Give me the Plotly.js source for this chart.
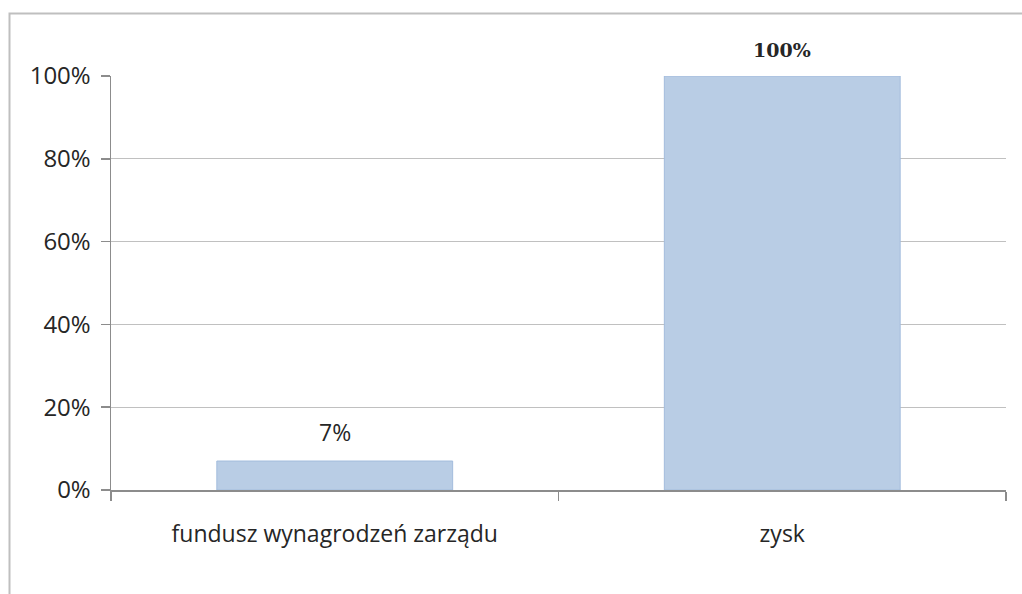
<!DOCTYPE html>
<html>
<head>
<meta charset="utf-8">
<script src="https://cdn.plot.ly/plotly-3.0.1.min.js"></script>
<style>
html,body{margin:0;padding:0;background:#fff;}
#chart{width:1022px;height:594px;}
</style>
</head>
<body>
<div id="chart"></div>
<script>
const categories = ["fundusz wynagrodzeń zarządu", "zysk"];
const values = [0.07, 1.00];
const labels = ["7%", "100%"];
const yTicks = [0, 0.2, 0.4, 0.6, 0.8, 1.0];
const yTickLabels = ["0%", "20%", "40%", "60%", "80%", "100%"];

// pixel geometry of plot area
const W = 1022, H = 594;
const L = 111, R = 1006, T = 76, B = 490;
const pw = R - L, ph = B - T;
function px2x(p){ return (p - L) / pw; }
function px2y(p){ return (B - p) / ph; }

const trace = {
  type: "bar",
  x: categories,
  y: values,
  marker: {color: "#B9CDE5", line: {color: "#A3BCDD", width: 1}},
  hoverinfo: "none"
};

const annotations = categories.map((c, i) => ({
  x: c, y: values[i], xref: "x", yref: "y",
  text: labels[i], showarrow: false,
  yanchor: "bottom", yshift: i === 1 ? 13 : 11,
  font: i === 1
    ? {family: "DejaVu Serif, serif", size: 19, color: "#262626", weight: "bold"}
    : {family: "Open Sans, sans-serif", size: 23, color: "#262626"}
}));

const layout = {
  width: W, height: H,
  margin: {l: L, r: W - R, t: T, b: H - B, pad: 0},
  paper_bgcolor: "#ffffff",
  plot_bgcolor: "#ffffff",
  showlegend: false,
  bargap: 0.473,
  font: {family: "Open Sans, sans-serif", size: 22, color: "#262626"},
  xaxis: {
    type: "category",
    showgrid: false,
    showline: true, linecolor: "#8C8C8C", linewidth: 1.5,
    ticks: "outside", tickson: "boundaries", ticklen: 9, tickcolor: "#8C8C8C", tickwidth: 1.5,
    tickfont: {size: 23},
    ticklabelstandoff: 23,
    fixedrange: true
  },
  yaxis: {
    range: [0, 1],
    tickvals: yTicks, ticktext: yTickLabels,
    showgrid: true, gridcolor: "#C0C0C0", gridwidth: 1.2,
    showline: true, linecolor: "#8C8C8C", linewidth: 1.5,
    ticks: "outside", ticklen: 9, tickcolor: "#8C8C8C", tickwidth: 1.5,
    zeroline: false,
    tickfont: {size: 24},
    ticklabelstandoff: 5,
    fixedrange: true
  },
  annotations: annotations,
  shapes: [{
    type: "rect", xref: "paper", yref: "paper",
    x0: px2x(9.5), x1: px2x(1030), y0: px2y(13.5), y1: px2y(610),
    line: {color: "#BFBFBF", width: 2}, fillcolor: "rgba(0,0,0,0)", layer: "above"
  }]
};

Plotly.newPlot("chart", [trace], layout, {displayModeBar: false, staticPlot: true});
</script>
</body>
</html>
